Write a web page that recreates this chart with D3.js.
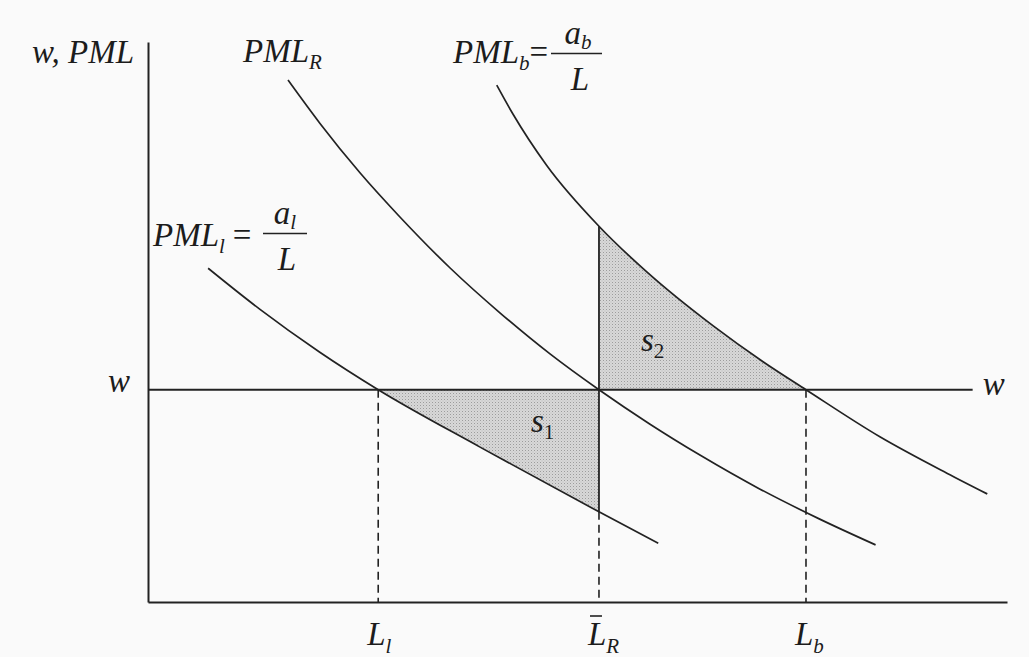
<!DOCTYPE html>
<html><head><meta charset="utf-8">
<script src="https://cdn.jsdelivr.net/npm/d3@7"></script>
<style>
html,body{margin:0;padding:0;background:#fafafa;}
svg{display:block;}
text{font-family:"Liberation Serif","DejaVu Serif",serif;font-style:italic;fill:#1c1c1c;}
</style></head><body>
<svg id="chart" width="1029" height="657"></svg>
<script>
// ---- data (abstract units) ----
const labourDomain = [0, 100];
const wageDomain = [0, 100];
const wage = 37.9;
const wageLineEnd = 96.0;
const tickValues = [26.8, 52.5, 76.6];          // L_l, L̄_R, L_b
const tickSubs = ["l", "R", "b"];
const L_l = tickValues[0], L_R = tickValues[1], L_b = tickValues[2];

const pmlLowX  = [7.0, 13.0, 20.0, 26.8, 38.6, 52.5, 59.4];
const pmlLowY  = [59.6, 52.3, 44.6, 37.9, 27.7, 16.1, 10.5];
const pmlRX    = [16.3, 20.0, 24.7, 29.3, 35.2, 41.0, 46.8, 52.5, 58.4, 64.3, 71.2, 78.2, 84.7];
const pmlRY    = [93.2, 85.5, 76.6, 68.8, 59.6, 51.6, 44.3, 37.9, 31.8, 26.2, 20.2, 14.8, 10.2];
const pmlHighX = [40.6, 42.5, 46.4, 52.5, 58.1, 65.8, 71.6, 76.6, 85.2, 93.0, 97.7];
const pmlHighY = [92.3, 87.1, 78.0, 67.1, 58.9, 49.3, 42.9, 37.9, 29.5, 23.0, 19.3];

const zip = (a, b) => a.map((v, i) => [v, b[i]]);
const pmlLow = zip(pmlLowX, pmlLowY);
const pmlR = zip(pmlRX, pmlRY);
const pmlHigh = zip(pmlHighX, pmlHighY);

// ---- drawing ----
const svg = d3.select("#chart");
const x = d3.scaleLinear().domain(labourDomain).range([148, 1007]);
const y = d3.scaleLinear().domain(wageDomain).range([602, 42]);
const ink = "#222";

svg.append("rect").attr("width", 1029).attr("height", 657).attr("fill", "#fafafa");

const defs = svg.append("defs");
const pat = defs.append("pattern").attr("id", "stip").attr("width", 3).attr("height", 3)
  .attr("patternUnits", "userSpaceOnUse");
pat.append("rect").attr("width", 3).attr("height", 3).attr("fill", "#d8d8d8");
pat.append("rect").attr("width", 1).attr("height", 1).attr("fill", "#9c9c9c");
pat.append("rect").attr("x", 1.5).attr("y", 1.5).attr("width", 1).attr("height", 1).attr("fill", "#bcbcbc");

defs.append("clipPath").attr("id", "c1").append("rect")
  .attr("x", x(L_l)).attr("y", 0).attr("width", x(L_R) - x(L_l)).attr("height", 657);
defs.append("clipPath").attr("id", "c2").append("rect")
  .attr("x", x(L_R)).attr("y", 0).attr("width", x(L_b) - x(L_R)).attr("height", 657);

const curve = d3.curveMonotoneX;
const line = d3.line().x(d => x(d[0])).y(d => y(d[1])).curve(curve);
const area = d3.area().x(d => x(d[0])).y0(y(wage)).y1(d => y(d[1])).curve(curve);

// shaded areas
svg.append("path").attr("d", area(pmlLow)).attr("fill", "url(#stip)").attr("clip-path", "url(#c1)");
svg.append("path").attr("d", area(pmlHigh)).attr("fill", "url(#stip)").attr("clip-path", "url(#c2)");

// axes
svg.append("g").attr("transform", `translate(0,${y(0)})`)
  .call(d3.axisBottom(x).tickValues([]).tickSizeOuter(0));
svg.append("g").attr("transform", `translate(${x(0)},0)`)
  .call(d3.axisLeft(y).tickValues([]).tickSizeOuter(0));
svg.selectAll(".domain").attr("stroke", ink).attr("stroke-width", 2);

// wage line
svg.append("line").attr("x1", x(0)).attr("x2", x(wageLineEnd))
  .attr("y1", y(wage)).attr("y2", y(wage)).attr("stroke", ink).attr("stroke-width", 1.8);

// dashed drop lines
const lowAtR = pmlLowY[pmlLowX.indexOf(L_R)];
const highAtR = pmlHighY[pmlHighX.indexOf(L_R)];
const drops = [[L_l, wage], [L_R, lowAtR], [L_b, wage]];
svg.selectAll(".drop").data(drops).join("line").attr("class", "drop")
  .attr("x1", d => x(d[0])).attr("x2", d => x(d[0]))
  .attr("y1", d => y(d[1])).attr("y2", y(0))
  .attr("stroke", ink).attr("stroke-width", 1.6).attr("stroke-dasharray", "8,5");
// solid vertical at L_R
svg.append("line").attr("x1", x(L_R)).attr("x2", x(L_R))
  .attr("y1", y(highAtR)).attr("y2", y(lowAtR)).attr("stroke", ink).attr("stroke-width", 1.8);

// curves
[pmlLow, pmlR, pmlHigh].forEach(c => {
  svg.append("path").attr("d", line(c)).attr("fill", "none").attr("stroke", ink).attr("stroke-width", 1.7);
});

// ---- text ----
const F = 33, S = 21;
function label(px, py, main, sub, after, anchor, subUpright) {
  const t = svg.append("text").attr("x", px).attr("y", py).attr("font-size", F)
    .attr("text-anchor", anchor || "start");
  t.append("tspan").text(main);
  if (sub) {
    const s = t.append("tspan").attr("font-size", S).attr("dy", 7).text(sub);
    if (subUpright) s.style("font-style", "normal");
  }
  if (after) t.append("tspan").attr("dy", sub ? -7 : 0).attr("dx", after.dx || 0)
    .style("font-style", "normal").text(after.t);
  return t;
}
label(134, 63, "w, PML", null, null, "end");
label(243, 62, "PML", "R");
label(453, 63, "PML", "b", {t: "=", dx: 0});
label(153, 246, "PML", "l", {t: "=", dx: 8});

// fractions
function frac(cx, x1, x2, barY, num, numSub) {
  svg.append("line").attr("x1", x1).attr("x2", x2).attr("y1", barY).attr("y2", barY)
    .attr("stroke", ink).attr("stroke-width", 1.5);
  const t = svg.append("text").attr("x", cx).attr("y", barY - 10).attr("font-size", F).attr("text-anchor", "middle");
  t.append("tspan").text(num);
  t.append("tspan").attr("font-size", S).attr("dy", 5).text(numSub);
  svg.append("text").attr("x", cx + 2).attr("y", barY + 36).attr("font-size", F)
    .attr("text-anchor", "middle").text("L");
}
frac(578, 551, 602, 53.5, "a", "b");
frac(285, 263, 307, 233.5, "a", "l");

// w labels
svg.append("text").attr("x", x(0) - 18).attr("y", y(wage) + 2).attr("font-size", F)
  .attr("text-anchor", "end").text("w");
svg.append("text").attr("x", x(wageLineEnd) + 10).attr("y", y(wage) + 5).attr("font-size", F).text("w");

// area labels
label(531, 432, "s", "1", null, "start", true);
label(641, 351, "s", "2", null, "start", true);

// x tick labels
tickValues.forEach((v, i) => {
  const t = svg.append("text").attr("x", x(v) - 11).attr("y", 645).attr("font-size", F);
  t.append("tspan").text("L");
  t.append("tspan").attr("font-size", S).attr("dy", 8).text(tickSubs[i]);
});
// bar over L_R
svg.append("line").attr("x1", x(L_R) - 9).attr("x2", x(L_R) + 3).attr("y1", 616).attr("y2", 616)
  .attr("stroke", ink).attr("stroke-width", 1.6);
</script>
</body></html>
